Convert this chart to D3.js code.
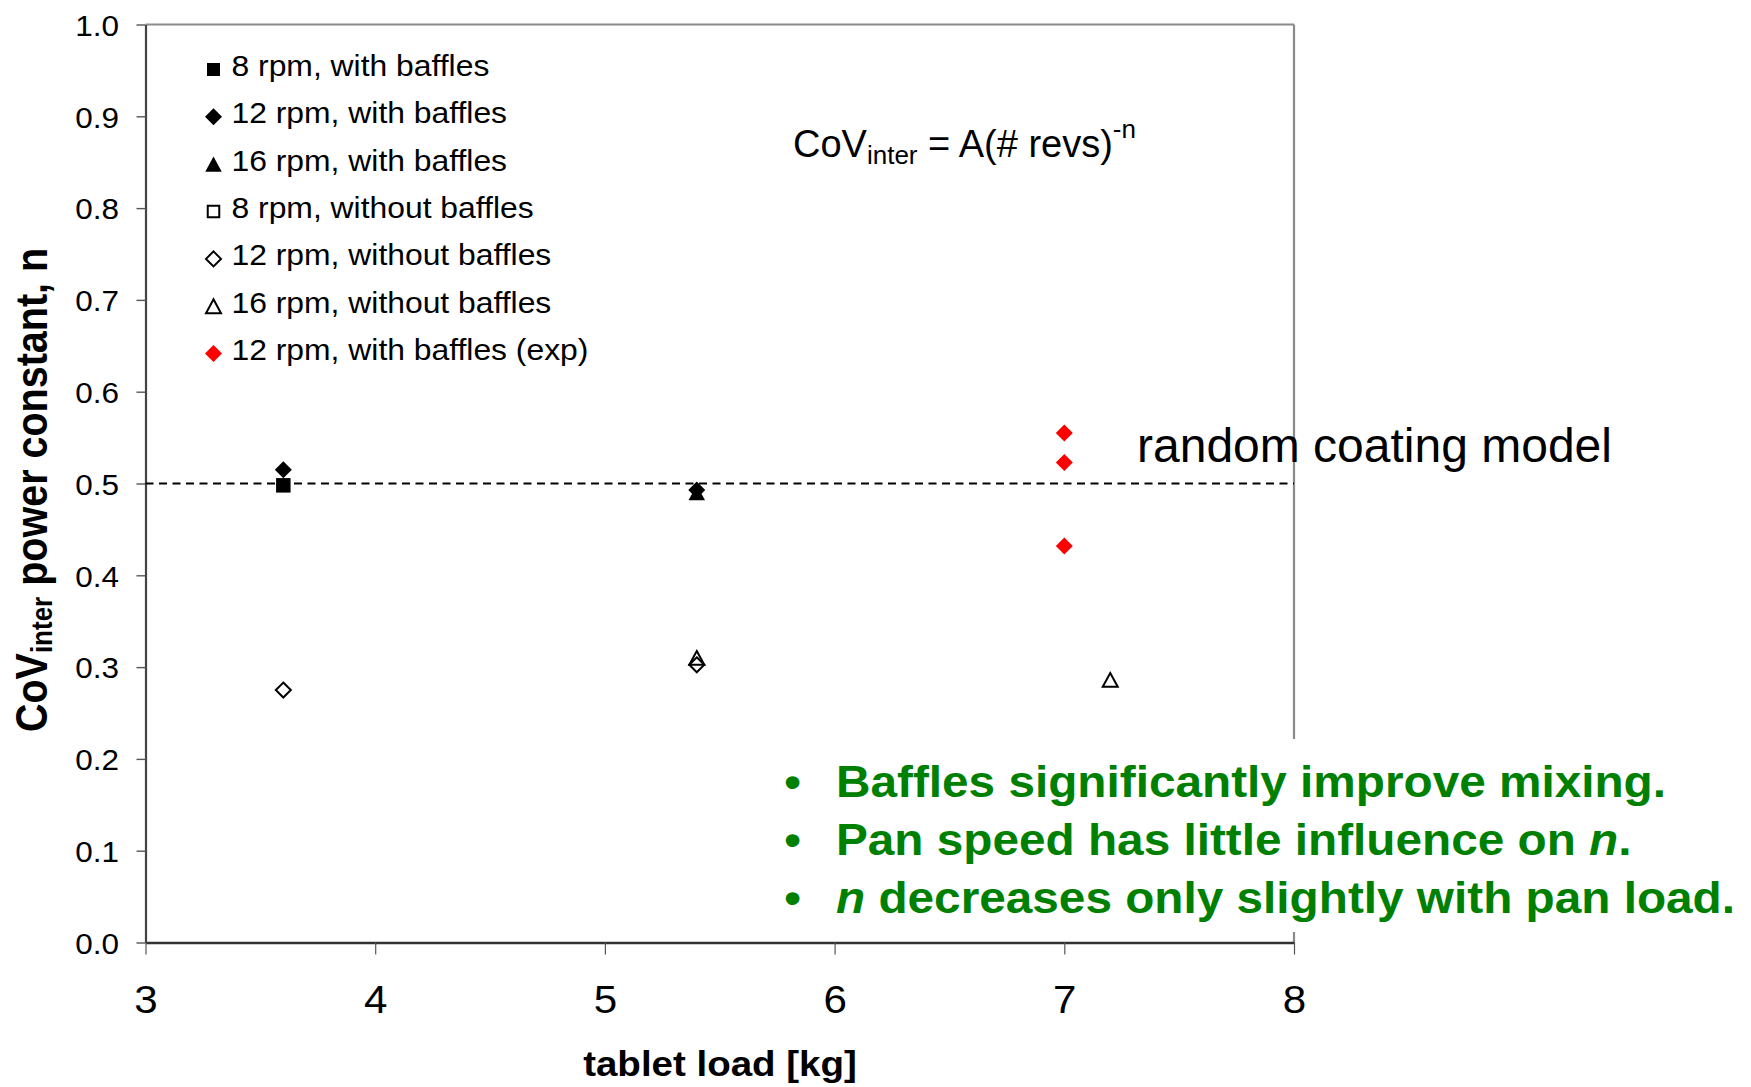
<!DOCTYPE html>
<html><head><meta charset="utf-8">
<script src="https://cdn.jsdelivr.net/npm/d3@7"></script>
<style>
body{margin:0;background:#fff}
svg{display:block}
text{font-family:"Liberation Sans",Arial,Helvetica,sans-serif}
</style>
</head><body>
<svg id="chart" width="1751" height="1087"></svg>
<script>
// ---------------- data ----------------
const xTicks = [3, 4, 5, 6, 7, 8];
const yTicks = [0, 0.1, 0.2, 0.3, 0.4, 0.5, 0.6, 0.7, 0.8, 0.9, 1.0];
const seriesNames = [
  "8 rpm, with baffles",
  "12 rpm, with baffles",
  "16 rpm, with baffles",
  "8 rpm, without baffles",
  "12 rpm, without baffles",
  "16 rpm, without baffles",
  "12 rpm, with baffles (exp)"
];
const load8With = [3.6];        const n8With = [0.498];
const load12With = [3.6, 5.4];  const n12With = [0.515, 0.493];
const load16With = [5.4];       const n16With = [0.490];
const load8Without = [];        const n8Without = [];
const load12Without = [3.6, 5.4]; const n12Without = [0.275, 0.3025];
const load16Without = [5.4, 7.2]; const n16Without = [0.310, 0.286];
const load12Exp = [7.0, 7.0, 7.0]; const n12Exp = [0.555, 0.523, 0.432];
const modelValue = [0.5];
const modelLabel = "random coating model";
const xTitle = "tablet load [kg]";
const noteLines = [
  "Baffles significantly improve mixing.",
  "Pan speed has little influence on *n*.",
  "*n* decreases only slightly with pan load."
];

// ---------------- setup ----------------
const svg = d3.select("#chart");
svg.append("rect").attr("width", 1751).attr("height", 1087).attr("fill", "#fff");
const FONT = '"Liberation Sans",Arial,Helvetica,sans-serif';
const L = 145.5, R = 1294, T = 24.5, B = 942.5;
const x = d3.scaleLinear().domain([3, 8]).range([L, R]);
const y = d3.scaleLinear().domain([0, 1]).range([B, T]);

// custom marker shapes
const diamondT = { draw(c, s) { const r = Math.sqrt(s) / 2; c.moveTo(0, -r); c.lineTo(r, 0); c.lineTo(0, r); c.lineTo(-r, 0); c.closePath(); } };
const squareT = { draw(c, s) { const r = Math.sqrt(s) / 2; c.rect(-r, -r, 2 * r, 2 * r); } };
const triT = { draw(c, s) { const w = Math.sqrt(s), h = w * 0.92; c.moveTo(0, -h / 2); c.lineTo(w / 2, h / 2); c.lineTo(-w / 2, h / 2); c.closePath(); } };

const series = [
  { name: seriesNames[0], xs: load8With, ys: n8With, type: squareT, size: 14.5 * 14.5, fill: "#000", stroke: "none" },
  { name: seriesNames[1], xs: load12With, ys: n12With, type: diamondT, size: 17 * 17, fill: "#000", stroke: "none" },
  { name: seriesNames[2], xs: load16With, ys: n16With, type: triT, size: 16.5 * 16.5, fill: "#000", stroke: "none" },
  { name: seriesNames[3], xs: load8Without, ys: n8Without, type: squareT, size: 12 * 12, fill: "none", stroke: "#000" },
  { name: seriesNames[4], xs: load12Without, ys: n12Without, type: diamondT, size: 15 * 15, fill: "none", stroke: "#000" },
  { name: seriesNames[5], xs: load16Without, ys: n16Without, type: triT, size: 15 * 15, fill: "none", stroke: "#000" },
  { name: seriesNames[6], xs: load12Exp, ys: n12Exp, type: diamondT, size: 17 * 17, fill: "#ff0000", stroke: "none" }
];

// ---------------- frame ----------------
svg.append("line").attr("x1", L).attr("x2", R).attr("y1", T).attr("y2", T)
  .attr("stroke", "#8a8a8a").attr("stroke-width", 2.2);
svg.append("line").attr("x1", R).attr("x2", R).attr("y1", T).attr("y2", B)
  .attr("stroke", "#8a8a8a").attr("stroke-width", 2.2);

// ---------------- axes ----------------
const yAxis = svg.append("g").attr("transform", `translate(${L},0)`)
  .call(d3.axisLeft(y).tickValues(yTicks).tickFormat(d3.format(".1f")).tickSizeInner(9).tickSizeOuter(0));
yAxis.select(".domain").attr("stroke", "#444").attr("stroke-width", 2.2);
yAxis.selectAll(".tick line").attr("stroke", "#555").attr("stroke-width", 1.4);
yAxis.selectAll(".tick text")
  .attr("x", null).attr("dy", "0.36em")
  .attr("transform", "translate(-26.5,0) scale(1.05,1)")
  .attr("text-anchor", "end")
  .attr("font-family", FONT).attr("font-size", 30).attr("fill", "#000");

const xAxis = svg.append("g").attr("transform", `translate(0,${B})`)
  .call(d3.axisBottom(x).tickValues(xTicks).tickFormat(d3.format("d")).tickSizeInner(12).tickSizeOuter(0));
xAxis.select(".domain").attr("stroke", "#333").attr("stroke-width", 2.6);
xAxis.selectAll(".tick line").attr("stroke", "#555").attr("stroke-width", 1.2);
xAxis.selectAll(".tick text")
  .attr("y", null).attr("dy", null)
  .attr("transform", "translate(0,70) scale(1.08,1)")
  .attr("text-anchor", "middle")
  .attr("font-family", FONT).attr("font-size", 39).attr("fill", "#000");

// ---------------- reference line ----------------
svg.selectAll(".model").data(modelValue).enter().append("line")
  .attr("x1", x(3)).attr("x2", x(8))
  .attr("y1", d => y(d)).attr("y2", d => y(d))
  .attr("stroke", "#000").attr("stroke-width", 2).attr("stroke-dasharray", "8,5.5");

// ---------------- points ----------------
const sym = d3.symbol();
series.forEach(s => {
  svg.append("g").selectAll("path").data(s.xs.map((v, i) => [v, s.ys[i]])).enter().append("path")
    .attr("transform", d => `translate(${x(d[0])},${y(d[1])})`)
    .attr("d", sym.type(s.type).size(s.size)())
    .attr("fill", s.fill).attr("stroke", s.stroke).attr("stroke-width", 2);
});

// ---------------- legend ----------------
const leg = svg.append("g");
series.forEach((s, i) => {
  const by = 76 + i * 47.35;
  const legSize = s.type === squareT ? (s.fill === "none" ? 11.5 * 11.5 : 13 * 13) : s.size;
  leg.append("path")
    .attr("transform", `translate(213.5,${by - 6.5})`)
    .attr("d", d3.symbol().type(s.type).size(legSize)())
    .attr("fill", s.fill).attr("stroke", s.stroke).attr("stroke-width", 2);
  leg.append("text")
    .attr("transform", `translate(231.5,${by}) scale(1.08,1)`)
    .attr("font-family", FONT).attr("font-size", 29.5).attr("fill", "#000")
    .text(s.name);
});

// ---------------- equation ----------------
const eq = svg.append("text")
  .attr("x", 793).attr("y", 157)
  .attr("font-family", FONT).attr("font-size", 38).attr("fill", "#000");
eq.append("tspan").text("CoV");
eq.append("tspan").attr("font-size", 26).attr("dy", 7).text("inter");
eq.append("tspan").attr("dy", -7).text(" = A(# revs)");
eq.append("tspan").attr("font-size", 26).attr("dy", -19).text("-n");

// ---------------- model label ----------------
svg.append("text")
  .attr("x", 1137).attr("y", 462)
  .attr("font-family", FONT).attr("font-size", 48).attr("fill", "#000")
  .text(modelLabel);

// ---------------- axis titles ----------------
const yt = svg.append("text")
  .attr("transform", "translate(46.5,490) scale(1.1,1) rotate(-90)")
  .attr("text-anchor", "middle")
  .attr("font-family", FONT).attr("font-size", 39.5).attr("font-weight", "bold").attr("fill", "#000");
yt.append("tspan").text("CoV");
yt.append("tspan").attr("font-size", 26).attr("dy", 5).text("inter");
yt.append("tspan").attr("dy", -5).text(" power constant, n");

svg.append("text")
  .attr("transform", "translate(720,1076) scale(1.1,1)")
  .attr("text-anchor", "middle")
  .attr("font-family", FONT).attr("font-size", 35).attr("font-weight", "bold").attr("fill", "#000")
  .text(xTitle);

// ---------------- notes box ----------------
svg.append("rect").attr("x", 770).attr("y", 739).attr("width", 981).attr("height", 193).attr("fill", "#fff");
noteLines.forEach((line, i) => {
  const by = 797 + i * 58;
  svg.append("text")
    .attr("transform", `translate(792.5,${by}) scale(1.085,1)`)
    .attr("text-anchor", "middle")
    .attr("font-family", FONT).attr("font-size", 44).attr("font-weight", "bold").attr("fill", "#008000")
    .text("\u2022");
  const t = svg.append("text")
    .attr("transform", `translate(836,${by}) scale(1.085,1)`)
    .attr("font-family", FONT).attr("font-size", 44).attr("font-weight", "bold").attr("fill", "#008000");
  line.split("*").forEach((part, k) => {
    if (part.length) t.append("tspan").attr("font-style", k % 2 ? "italic" : "normal").text(part);
  });
});
</script>
</body></html>
